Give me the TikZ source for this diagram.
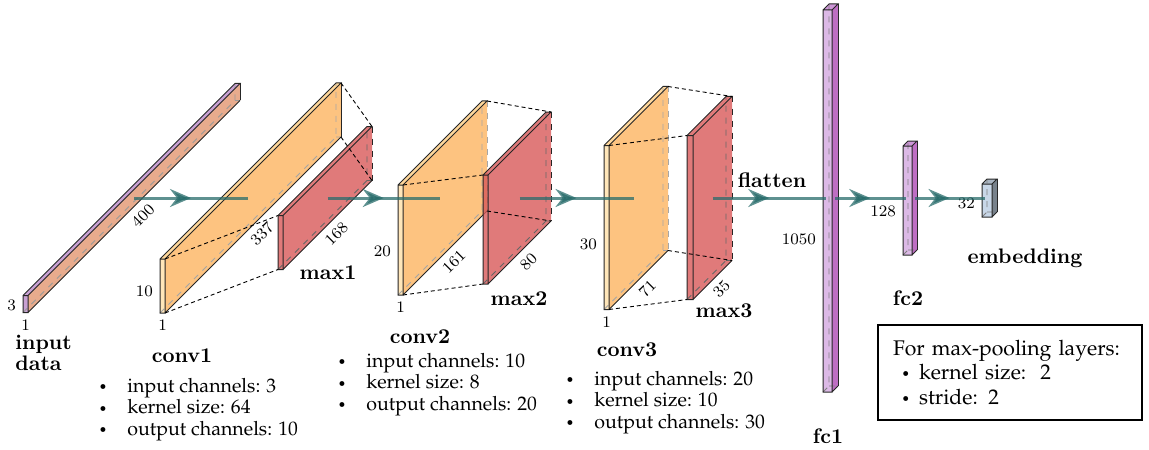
\documentclass[tikz,border=0pt]{standalone}
\usepackage[T1,TU]{fontenc}
\usetikzlibrary{arrows.meta,decorations.markings}

\definecolor{inpfront}{HTML}{BA88C7}
\definecolor{inptop}{HTML}{BA88C7}
\definecolor{inpside}{HTML}{E29670}
\colorlet{inphid}{black!40}
\definecolor{convfront}{HTML}{FFE0A8}
\definecolor{convtop}{HTML}{FFCD82}
\definecolor{convside}{HTML}{FCB460}
\colorlet{convhid}{black!35}
\definecolor{poolfront}{HTML}{D85959}
\colorlet{pooltop}{poolfront}
\colorlet{poolside}{poolfront}
\colorlet{poolhid}{black!60}
\definecolor{fcfront}{HTML}{D3A8E0}
\definecolor{fctop}{HTML}{C17CCD}
\definecolor{fcside}{HTML}{AE4AB4}
\colorlet{fchid}{black!50}
\definecolor{embfront}{HTML}{BACDE2}
\definecolor{embtop}{HTML}{95A4B4}
\definecolor{embside}{HTML}{56636F}
\colorlet{embhid}{black!50}
\definecolor{flowc}{HTML}{286C6B}

\newcommand{\palfont}{\fontencoding{T1}\fontfamily{ppl}\selectfont}
\newcommand{\bul}[1]{\makebox[#1][l]{\raisebox{.3ex}{$\scriptscriptstyle\bullet$}}}

% name, x, width, height, depth, colours, far edge
\newcommand{\slab}[7]{%
  \pgfmathsetmacro\slabyt{198+#5/2-#4/2}%
  \pgfmathsetmacro\slabyb{198+#5/2+#4/2}%
  \coordinate (#1-nw) at (#2,\slabyt);
  \coordinate (#1-sw) at (#2,\slabyb);
  \coordinate (#1-ne) at ({#2+#3},\slabyt);
  \coordinate (#1-se) at ({#2+#3},\slabyb);
  \coordinate (#1-fnw) at ({#2+#5},{\slabyt-#5});
  \coordinate (#1-fsw) at ({#2+#5},{\slabyb-#5});
  \coordinate (#1-fne) at ({#2+#3+#5},{\slabyt-#5});
  \coordinate (#1-fse) at ({#2+#3+#5},{\slabyb-#5});
  \coordinate (#1-west) at ({#2+#5/2},198);
  \coordinate (#1-east) at ({#2+#3+#5/2},198);
  \coordinate (#1-h) at (#2,{198+#5/2+#4/10});
  \coordinate (#1-w) at ({#2+#3/2},\slabyb);
  \coordinate (#1-d) at ({#2+#3+#5/2},{\slabyb-#5/2});
  \fill[#6side,fill opacity=.8] (#1-ne) -- (#1-fne) -- (#1-fse) -- (#1-se) -- cycle;
  \fill[#6top,fill opacity=.8] (#1-nw) -- (#1-fnw) -- (#1-fne) -- (#1-ne) -- cycle;
  \fill[#6front,fill opacity=.8] (#1-nw) rectangle (#1-se);
  \draw[#6hid,dashed,line width=.4pt] (#1-sw) -- (#1-fsw) -- (#1-fnw) (#1-fsw) -- (#1-fse);
  \draw[outline] (#1-nw) rectangle (#1-se) (#1-se) -- (#1-fse) (#1-nw) -- (#1-fnw) -- (#1-fne) -- (#1-ne);
  \draw[outline,#7] (#1-fne) -- (#1-fse);
}

\begin{document}
\begin{tikzpicture}[x=0.5pt,y=-0.5pt]
\tikzstyle{outline}=[draw=black!85,line width=.5pt]
\tikzstyle{pooled}=[draw=black,line width=.45pt,dash pattern=on 2pt off 1.5pt]
\tikzstyle{flow}=[draw=flowc,line width=1.5pt,opacity=.75,postaction={decorate},
  decoration={markings,mark=at position .5 with {\arrow{Stealth[length=10.5pt,width=9pt,inset=3.5pt]}}}]
\tikzstyle{num}=[font={\fontsize{8}{9}\selectfont}]
\tikzstyle{lbl}=[font={\fontsize{10.5}{10.5}\selectfont\bfseries}]
\tikzstyle{info}=[font={\fontsize{9.8}{10.6}\palfont},align=left,anchor=base west,inner sep=0pt]
\useasboundingbox (0,0) rectangle (1149,449);

\slab{inp}{23}{5}{17}{212}{inp}{solid}
\slab{conv1}{160}{5}{54}{176}{conv}{solid}
\slab{max1}{278}{5}{54}{89}{pool}{dashed}
\slab{conv2}{398}{5}{110}{84}{conv}{dashed,draw=black!35}
\slab{max2}{483}{5}{109}{63}{pool}{dashed}
\slab{conv3}{604}{5}{164}{59}{conv}{dashed,draw=black!35}
\slab{max3}{687}{6}{164}{39}{pool}{dashed}
\slab{fc1}{823}{9}{382}{6}{fc}{solid}
\slab{fc2}{903}{9}{109}{5}{fc}{solid}
\slab{emb}{982}{10}{33}{5}{emb}{solid}

\foreach \c/\p in {conv1/max1,conv2/max2,conv3/max3}
  \draw[pooled] (\c-ne) -- (\p-nw) (\c-se) -- (\p-sw) (\c-fne) -- (\p-fne) (\c-fse) -- (\p-fse);

\node[num,left] (inph) at (inp-h) {3};
\node[num,below] (inpw) at (inp-w) {1};
\node[num,below,rotate=45] (inpd) at (inp-d) {400};
\node[num,left] (conv1h) at (conv1-h) {10};
\node[num,below] (conv1w) at (conv1-w) {1};
\node[num,below,rotate=45] (conv1d) at (conv1-d) {337};
\node[num,below,rotate=45] (max1d) at (max1-d) {168};
\node[num,left] (conv2h) at (conv2-h) {20};
\node[num,below] (conv2w) at (conv2-w) {1};
\node[num,below,rotate=45] (conv2d) at (conv2-d) {161};
\node[num,below,rotate=45] (max2d) at (max2-d) {80};
\node[num,left] (conv3h) at (conv3-h) {30};
\node[num,below] (conv3w) at (conv3-w) {1};
\node[num,below,rotate=45] (conv3d) at (conv3-d) {71};
\node[num,below,rotate=45] (max3d) at (max3-d) {35};
\node[num,left] (fc1h) at (fc1-h) {1050};
\node[num,left] (fc2h) at (fc2-h) {128};
\node[num,left] (embh) at (emb-h) {32};

\draw[flow] (inp-east) -- (conv1-west);
\draw[flow] (max1-east) -- (conv2-west);
\draw[flow] (max2-east) -- (conv3-west);
\draw[flow] (max3-east) -- (fc1-west);
\draw[flow] (fc1-east) -- (fc2-west);
\draw[flow] (fc2-east) -- (emb-west);

\node[lbl,align=left,anchor=north west,inner sep=0pt] (inplbl) at (15,335) {input\\data};
\node[lbl,anchor=base] (conv1lbl) at (182,362) {conv1};
\node[lbl,anchor=base] (max1lbl) at (328,279) {max1};
\node[lbl,anchor=base] (conv2lbl) at (420,343) {conv2};
\node[lbl,anchor=base] (max2lbl) at (519,305) {max2};
\node[lbl,anchor=base] (conv3lbl) at (627,356) {conv3};
\node[lbl,anchor=base] (max3lbl) at (724,317) {max3};
\node[lbl,anchor=base] (flatlbl) at (772,187) {flatten};
\node[lbl,anchor=base] (fc1lbl) at (828,443) {fc1};
\node[lbl,anchor=base] (fc2lbl) at (908,305) {fc2};
\node[lbl,anchor=base] (emblbl) at (1025,263) {embedding};

\node[info] (conv1info) at (99,435) {\bul{14pt}input channels: 3\\\bul{14pt}kernel size: 64\\\bul{14pt}output channels: 10};
\node[info] (conv2info) at (338,410) {\bul{14pt}input channels: 10\\\bul{14pt}kernel size: 8\\\bul{14pt}output channels: 20};
\node[info] (conv3info) at (566,428) {\bul{14pt}input channels: 20\\\bul{14pt}kernel size: 10\\\bul{14pt}output channels: 30};

\node[draw,line width=.6pt,text width=117pt,inner xsep=7.5pt,inner ysep=0pt,minimum height=47.5pt,align=left,font={\fontsize{10.6}{12.3}\palfont}] (legend) at (1010,372.5) {For max-pooling layers:\\\hspace*{4.5pt}\bul{8.5pt}kernel size:\ \ 2\\\hspace*{4.5pt}\bul{8.5pt}stride: 2};
\end{tikzpicture}
\end{document}
